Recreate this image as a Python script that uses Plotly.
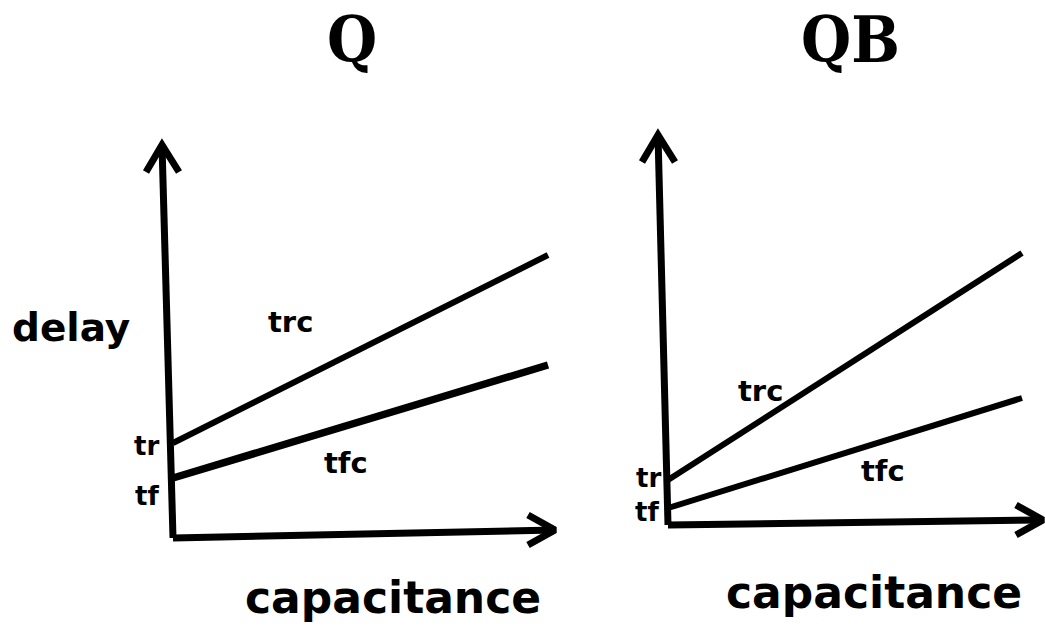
import plotly.graph_objects as go

# ---------------- data ----------------
capacitance = [0, 10]
Q_trc = [4.75, 14.15]
Q_tfc = [3.0, 8.65]
QB_trc = [2.25, 13.6]
QB_tfc = [0.85, 6.35]

panel_titles = ["Q", "QB"]
x_label = "capacitance"
y_label = "delay"
line_labels = ["trc", "tfc"]
intercept_labels = ["tr", "tf"]

# ---------------- layout helpers ----------------
W, H = 1045, 628
# per panel: (x domain px, x origin px, px per x unit, y origin px, px per y unit)
panels = [
    dict(xd=(0, 575), x0=173, kx=37.5, y0=538, ky=20.0),
    dict(xd=(575, 1045), x0=668, kx=35.4, y0=525, ky=20.0),
]

def xr(p):
    return [(p["xd"][0] - p["x0"]) / p["kx"], (p["xd"][1] - p["x0"]) / p["kx"]]

def yr(p):
    return [-(H - p["y0"]) / p["ky"], p["y0"] / p["ky"]]

def dx(p, px):
    return (px - p["x0"]) / p["kx"]

def dy(p, py):
    return (p["y0"] - py) / p["ky"]

fig = go.Figure()
BLACK = "black"

series = [(Q_trc, Q_tfc), (QB_trc, QB_tfc)]
# axis arrow tips (pixels) for each panel
ytips = [(162, 145), (658, 135)]
xtips = [(555, 530), (1043, 520)]
line_w = [(6, 7.5), (6, 6)]
AX_W = 7

label_px = [
    dict(trc=(290, 322), tfc=(346, 463), tr=(146, 446), tf=(147, 496)),
    dict(trc=(760, 391), tfc=(883, 471), tr=(648, 478), tf=(647, 512)),
]
label_size = dict(trc=29, tfc=29, tr=26, tf=26)

for i, p in enumerate(panels):
    xa = "x" if i == 0 else "x2"
    ya = "y" if i == 0 else "y2"
    trc, tfc = series[i]
    # y axis with arrow
    ytx, yty = ytips[i]
    fig.add_trace(go.Scatter(x=[0, dx(p, ytx)], y=[0, dy(p, yty)], mode="lines",
                             line=dict(color=BLACK, width=AX_W), xaxis=xa, yaxis=ya,
                             hoverinfo="skip", showlegend=False))
    fig.add_trace(go.Scatter(x=[dx(p, ytx - 16), dx(p, ytx), dx(p, ytx + 17)],
                             y=[dy(p, yty + 27), dy(p, yty), dy(p, yty + 27)], mode="lines",
                             line=dict(color=BLACK, width=AX_W), xaxis=xa, yaxis=ya,
                             hoverinfo="skip", showlegend=False))
    # x axis with arrow
    xtx, xty = xtips[i]
    fig.add_trace(go.Scatter(x=[0, dx(p, xtx)], y=[0, dy(p, xty)], mode="lines",
                             line=dict(color=BLACK, width=AX_W), xaxis=xa, yaxis=ya,
                             hoverinfo="skip", showlegend=False))
    fig.add_trace(go.Scatter(x=[dx(p, xtx - 27), dx(p, xtx), dx(p, xtx - 27)],
                             y=[dy(p, xty - 15), dy(p, xty), dy(p, xty + 15)], mode="lines",
                             line=dict(color=BLACK, width=AX_W), xaxis=xa, yaxis=ya,
                             hoverinfo="skip", showlegend=False))
    # data lines
    fig.add_trace(go.Scatter(x=capacitance, y=trc, mode="lines", name="trc",
                             line=dict(color=BLACK, width=line_w[i][0]), xaxis=xa, yaxis=ya,
                             showlegend=False))
    fig.add_trace(go.Scatter(x=capacitance, y=tfc, mode="lines", name="tfc",
                             line=dict(color=BLACK, width=line_w[i][1]), xaxis=xa, yaxis=ya,
                             showlegend=False))

    lp = label_px[i]
    for key, txt in zip(["trc", "tfc", "tr", "tf"], line_labels + intercept_labels):
        px, py = lp[key]
        fig.add_annotation(x=px / W, y=1 - py / H, xref="paper", yref="paper",
                           text=txt, showarrow=False, xanchor="center", yanchor="middle",
                           font=dict(family="DejaVu Sans", size=label_size[key], color=BLACK,
                                     weight="bold"))

# titles
for txt, cx in zip(panel_titles, [352, 850]):
    fig.add_annotation(x=cx / W, y=1 - 40 / H, xref="paper", yref="paper", text=txt,
                       showarrow=False, xanchor="center", yanchor="middle",
                       font=dict(family="DejaVu Serif Condensed, DejaVu Serif", size=64,
                                 color=BLACK, weight="bold"))

# axis labels
fig.add_annotation(x=71 / W, y=1 - 327 / H, xref="paper", yref="paper", text=y_label,
                   showarrow=False, xanchor="center", yanchor="middle",
                   font=dict(family="DejaVu Sans", size=39, color=BLACK, weight="bold"))
for cx, cy in [(393, 597), (874, 592)]:
    fig.add_annotation(x=cx / W, y=1 - cy / H, xref="paper", yref="paper", text=x_label,
                       showarrow=False, xanchor="center", yanchor="middle",
                       font=dict(family="DejaVu Sans", size=44, color=BLACK, weight="bold"))

axis_common = dict(visible=False, showgrid=False, zeroline=False, fixedrange=True)
fig.update_layout(
    width=W, height=H, margin=dict(l=0, r=0, t=0, b=0),
    paper_bgcolor="white", plot_bgcolor="white", showlegend=False,
    xaxis=dict(domain=[panels[0]["xd"][0] / W, panels[0]["xd"][1] / W], range=xr(panels[0]),
               anchor="y", **axis_common),
    yaxis=dict(domain=[0, 1], range=yr(panels[0]), anchor="x", **axis_common),
    xaxis2=dict(domain=[panels[1]["xd"][0] / W, panels[1]["xd"][1] / W], range=xr(panels[1]),
                anchor="y2", **axis_common),
    yaxis2=dict(domain=[0, 1], range=yr(panels[1]), anchor="x2", **axis_common),
)

fig.write_html("out.html", config={"displayModeBar": False},
               post_script="document.body.style.margin='0';document.body.style.overflow='hidden';")
